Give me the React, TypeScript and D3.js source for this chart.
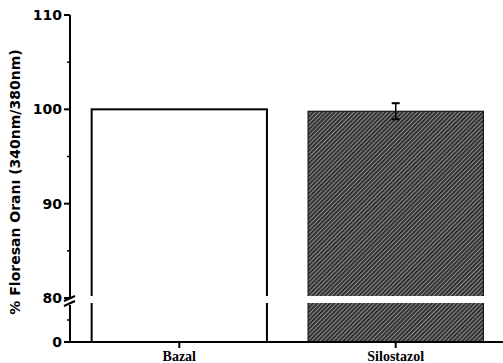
import React from "react";
import * as d3 from "d3";

const categories = ["Bazal", "Silostazol"];
const means = [100, 99.8];
const errors = [0, 0.85];
const upperTicks = [80, 90, 100, 110];
const upperMinor = [85, 95, 105];
const lowerTicks = [0];
const lowerMinor = [40];

const W = 503;
const H = 363;
const axisX = 70;
const baseY = 342;
const breakY = 298;

export default function App() {
  const x = d3.scaleBand<string>().domain(categories).range([axisX, 505]).paddingInner(0.19).paddingOuter(0.1);
  const yUp = d3.scaleLinear().domain([80, 110]).range([breakY, 15]);
  const yLow = d3.scaleLinear().domain([0, 80]).range([baseY, breakY]);
  const tickFont = { fontFamily: "DejaVu Sans", fontWeight: 700, fontSize: 14 };

  return (
    <svg width={W} height={H} style={{ position: "absolute", left: 0, top: 0, background: "#fff" }}>
      <defs>
        <pattern id="hatch" width={3} height={3} patternUnits="userSpaceOnUse" patternTransform="rotate(45)">
          <rect width={3} height={3} fill="#8a8a8a" />
          <rect width={1.8} height={3} fill="#2a2a2a" />
        </pattern>
      </defs>

      {/* bars */}
      {categories.map((c, i) => {
        const bx = x(c)!;
        const bw = x.bandwidth();
        const top = yUp(means[i]);
        return (
          <rect
            key={c}
            x={bx}
            y={top}
            width={bw}
            height={baseY - top}
            fill={i === 0 ? "#fff" : "url(#hatch)"}
            stroke="#000"
            strokeWidth={i === 0 ? 2 : 1}
          />
        );
      })}

      {/* error bars */}
      {categories.map((c, i) => {
        if (!errors[i]) return null;
        const cx = x(c)! + x.bandwidth() / 2;
        const y1 = yUp(means[i] + errors[i]);
        const y2 = yUp(means[i] - errors[i]);
        return (
          <g key={c} stroke="#000" strokeWidth={1.5}>
            <line x1={cx} x2={cx} y1={y1} y2={y2} />
            <line x1={cx - 4} x2={cx + 4} y1={y1} y2={y1} strokeWidth={2} />
            <line x1={cx - 4} x2={cx + 4} y1={y2} y2={y2} strokeWidth={2} />
          </g>
        );
      })}

      {/* break band over bars */}
      <rect x={axisX + 8} y={breakY - 2} width={W - axisX - 8} height={7} fill="#fff" />

      {/* y axis upper */}
      <line x1={axisX} x2={axisX} y1={yUp(110)} y2={breakY} stroke="#000" strokeWidth={2} />
      {upperTicks.map((t) => (
        <g key={t}>
          <line x1={axisX - 6} x2={axisX} y1={yUp(t)} y2={yUp(t)} stroke="#000" strokeWidth={2} />
          <text x={axisX - 8} y={yUp(t)} dy="0.35em" textAnchor="end" {...tickFont}>
            {t}
          </text>
        </g>
      ))}
      {upperMinor.map((t) => (
        <line key={t} x1={axisX - 3} x2={axisX} y1={yUp(t)} y2={yUp(t)} stroke="#000" strokeWidth={1.5} />
      ))}

      {/* y axis lower */}
      <line x1={axisX} x2={axisX} y1={breakY + 7} y2={baseY} stroke="#000" strokeWidth={2} />
      {lowerTicks.map((t) => (
        <g key={t}>
          <line x1={axisX - 6} x2={axisX} y1={yLow(t)} y2={yLow(t)} stroke="#000" strokeWidth={2} />
          <text x={axisX - 8} y={yLow(t)} dy="0.35em" textAnchor="end" {...tickFont}>
            {t}
          </text>
        </g>
      ))}
      {lowerMinor.map((t) => (
        <line key={t} x1={axisX - 3} x2={axisX} y1={yLow(t)} y2={yLow(t)} stroke="#000" strokeWidth={1.5} />
      ))}

      {/* break marks */}
      <g stroke="#000" strokeWidth={2}>
        <line x1={axisX - 6} x2={axisX + 5} y1={breakY + 3} y2={breakY - 2} />
        <line x1={axisX - 6} x2={axisX + 5} y1={breakY + 8} y2={breakY + 3} />
      </g>

      {/* x axis */}
      <line x1={axisX - 1} x2={W} y1={baseY} y2={baseY} stroke="#000" strokeWidth={2} />
      {categories.map((c) => {
        const cx = x(c)! + x.bandwidth() / 2;
        return (
          <g key={c}>
            <line x1={cx} x2={cx} y1={baseY} y2={baseY + 6} stroke="#000" strokeWidth={2} />
            <text x={cx} y={361} textAnchor="middle" fontFamily="Liberation Serif" fontWeight={700} fontSize={14}>
              {c}
            </text>
          </g>
        );
      })}

      {/* y label */}
      <text
        transform={`translate(20, 182) rotate(-90)`}
        textAnchor="middle"
        fontFamily="DejaVu Sans"
        fontWeight={700}
        fontSize={14}
      >
        % Floresan Oranı (340nm/380nm)
      </text>
    </svg>
  );
}
